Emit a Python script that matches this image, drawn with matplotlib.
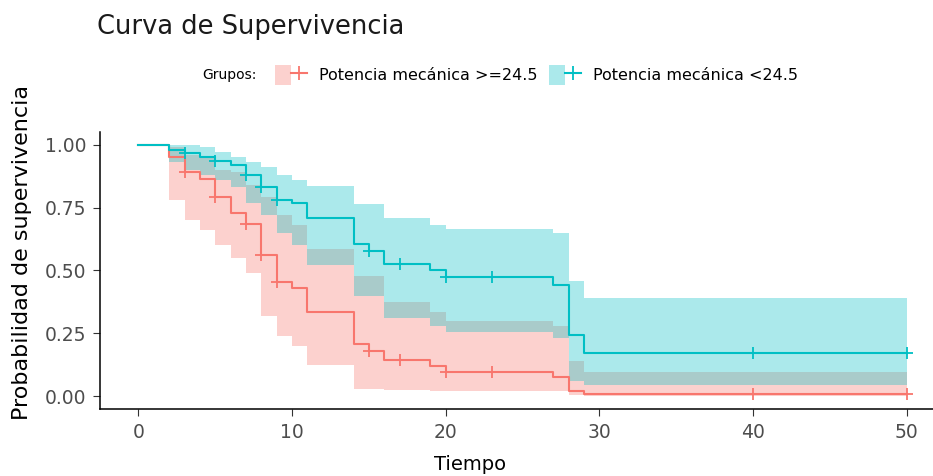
import numpy as np
import matplotlib
matplotlib.use("Agg")
import matplotlib.pyplot as plt
from matplotlib.patches import Patch
from matplotlib.lines import Line2D
from matplotlib.legend_handler import HandlerTuple

# Grupo: Potencia mecánica >=24.5
red_t = [0, 2, 3, 4, 5, 6, 7, 8, 9, 10, 11, 14, 15, 16, 19, 20, 27, 28, 29]
red_s = [1.0, 0.95, 0.89, 0.865, 0.79, 0.73, 0.685, 0.56, 0.455, 0.43, 0.335,
         0.21, 0.18, 0.145, 0.12, 0.098, 0.078, 0.02, 0.008]
red_lo = [1.0, 0.78, 0.70, 0.66, 0.60, 0.55, 0.49, 0.32, 0.24, 0.20, 0.125,
          0.03, 0.03, 0.025, 0.02, 0.02, 0.02, 0.004, 0.0]
red_hi = [1.0, 0.99, 0.96, 0.95, 0.90, 0.89, 0.84, 0.79, 0.72, 0.68, 0.585,
          0.48, 0.48, 0.375, 0.335, 0.30, 0.28, 0.14, 0.095]
red_cens = [3, 5, 7, 8, 9, 15, 17, 20, 23, 40, 50]

# Grupo: Potencia mecánica <24.5
teal_t = [0, 2, 3, 4, 5, 6, 7, 8, 9, 10, 11, 14, 15, 16, 19, 20, 27, 28, 29]
teal_s = [1.0, 0.98, 0.965, 0.95, 0.935, 0.92, 0.88, 0.83, 0.78, 0.77, 0.71,
          0.605, 0.578, 0.526, 0.50, 0.473, 0.443, 0.242, 0.172]
teal_lo = [1.0, 0.93, 0.90, 0.88, 0.86, 0.83, 0.77, 0.72, 0.65, 0.60, 0.52,
           0.40, 0.40, 0.31, 0.28, 0.256, 0.23, 0.06, 0.045]
teal_hi = [1.0, 1.0, 1.0, 0.99, 0.97, 0.95, 0.93, 0.91, 0.88, 0.86, 0.835,
           0.765, 0.765, 0.71, 0.68, 0.665, 0.65, 0.46, 0.39]
teal_cens = [3, 5, 7, 8, 9, 15, 17, 20, 23, 40, 50]

t_end = 50
labels = ["Potencia mecánica >=24.5", "Potencia mecánica <24.5"]
colors = ["#F8766D", "#00BFC4"]

fig = plt.figure(figsize=(9.33, 4.76), dpi=100)
ax = fig.add_axes([100 / 933, 67 / 476, 845 / 933, 277 / 476])


def draw_group(t, s, lo, hi, cens, color):
    t = np.append(t, t_end)
    s = np.append(s, s[-1])
    lo = np.append(lo, lo[-1])
    hi = np.append(hi, hi[-1])
    ax.fill_between(t, lo, hi, step="post", color=color, alpha=0.33, lw=0)
    ax.step(t, s, where="post", color=color, lw=1.5)
    idx = np.searchsorted(t[:-1], cens, side="right") - 1
    ax.plot(cens, s[idx], ls="none", marker="+", ms=9, mew=1.3, color=color)


draw_group(red_t, red_s, red_lo, red_hi, red_cens, colors[0])
draw_group(teal_t, teal_s, teal_lo, teal_hi, teal_cens, colors[1])

ax.set_xlim(-2.5, 52.5)
ax.set_ylim(-0.05, 1.05)
ax.set_xticks([0, 10, 20, 30, 40, 50])
ax.set_yticks([0, 0.25, 0.5, 0.75, 1.0])
ax.set_yticklabels(["0.00", "0.25", "0.50", "0.75", "1.00"])
ax.tick_params(labelsize=13.5, labelcolor="#4D4D4D", color="#333333",
               length=5, pad=5)
for side in ["top", "right"]:
    ax.spines[side].set_visible(False)
for side in ["left", "bottom"]:
    ax.spines[side].set_linewidth(1.1)

fig.text(97 / 933, 1 - 27 / 476, "Curva de Supervivencia", fontsize=18.5,
         va="center", ha="left", color="#1A1A1A")
fig.text(22 / 933, 1 - 252 / 476, "Probabilidad de supervivencia", fontsize=16,
         rotation=90, va="center", ha="center")
fig.text(470 / 933, 1 - 465 / 476, "Tiempo", fontsize=14, va="center", ha="center")

# leyenda
fig.text(202 / 933, 1 - 75 / 476, "Grupos:", fontsize=10, va="center", ha="left")
handles = [(Patch(facecolor=c, alpha=0.33, lw=0),
            Line2D([], [], color=c, lw=1.5, marker="+", ms=10, mew=1.3))
           for c in colors]
fig.legend(handles, labels, ncol=2, loc="center left",
           bbox_to_anchor=(275 / 933, 1 - 75 / 476), frameon=False,
           fontsize=11.5, handlelength=2.0, handleheight=1.5, handletextpad=0.75,
           columnspacing=0.7, borderpad=0, borderaxespad=0,
           handler_map={tuple: HandlerTuple(ndivide=None, pad=0)})

fig.savefig("out.png", dpi=100)
